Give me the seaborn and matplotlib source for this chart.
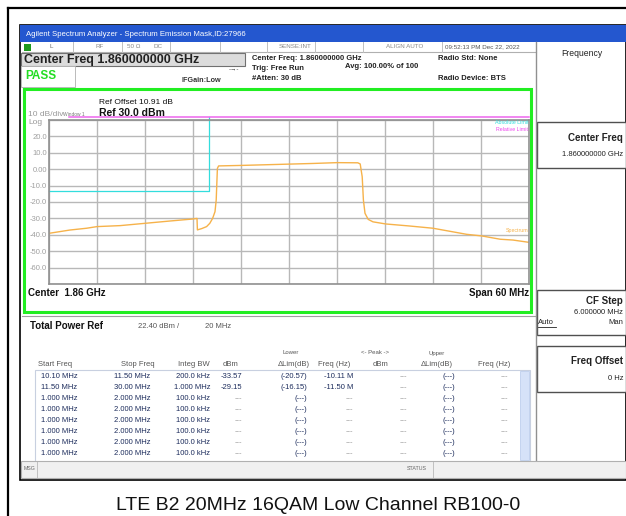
import numpy as np
import pandas as pd
import matplotlib
matplotlib.use("Agg")
import matplotlib.pyplot as plt
from matplotlib.patches import Rectangle
from matplotlib.lines import Line2D
import seaborn as sns

W, H = 626, 516

# trace: offset from 1.86 GHz centre (MHz) and level (dBm)
freq_mhz = [-30, -27.4, -25.3, -24, -21.1, -18, -14.9, -12.1, -11.5, -11.45, -10.9,
            -10.3, -9.9, -9.55, -9.25, -9.1, -8.95, -8.8, -6, -3, 0, 3, 6, 8.6,
            8.9, 9.15, 9.3, 9.5, 9.9, 10.5, 12.1, 15, 18, 19.7, 22.2, 24.1, 26.4,
            28, 30]
level_dbm = [-39.1, -37.1, -36.0, -35.0, -34.4, -33.0, -31.6, -30.4, -30.0, -37.0, -36.2,
             -35.0, -33.0, -30.0, -25.9, -18.8, 0.5, 2.0, 2.3, 2.7, 3.1, 3.5, 4.0, 3.9,
             3.2, -4.6, -18.8, -26.9, -30.6, -32.1, -33.4, -34.6, -36.0, -37.5, -39.7, -40.7, -42.7,
             -43.2, -44.6]

abs_limit_x = [-30, -10, -10]
abs_limit_y = [-13, -13, 32]
rel_limit_x = [-27.5, 30]
rel_limit_y = [31.6, 31.6]

y_ticks = [20, 10, 0, -10, -20, -30, -40, -50, -60]
y_tick_labels = ["20.0", "10.0", "0.00", "-10.0", "-20.0", "-30.0", "-40.0", "-50.0", "-60.0"]

start_freq = ["10.10 MHz", "11.50 MHz"] + ["1.000 MHz"] * 6
stop_freq = ["11.50 MHz", "30.00 MHz"] + ["2.000 MHz"] * 6
integ_bw = ["200.0 kHz", "1.000 MHz"] + ["100.0 kHz"] * 6
lower_dbm = ["-33.57", "-29.15"] + ["---"] * 6
lower_dlim = ["(-20.57)", "(-16.15)"] + ["(---)"] * 6
lower_freq = ["-10.11 M", "-11.50 M"] + ["---"] * 6
upper_dbm = ["---"] * 8
upper_dlim = ["(---)"] * 8
upper_freq = ["---"] * 8

plt.rcParams['font.family'] = ['Liberation Sans', 'DejaVu Sans']

fig = plt.figure(figsize=(W / 100, H / 100), dpi=100)
fig.patch.set_facecolor("white")


def box(x0, y0, x1, y1, fc="white", ec=None, lw=0, z=-5):
    fig.add_artist(Rectangle((x0 / W, 1 - y1 / H), (x1 - x0) / W, (y1 - y0) / H,
                             transform=fig.transFigure, fc=fc, ec=ec if ec else fc,
                             lw=lw, zorder=z))


def line(x0, y0, x1, y1, color="black", lw=1, z=-2):
    fig.add_artist(Line2D([x0 / W, x1 / W], [1 - y0 / H, 1 - y1 / H],
                          transform=fig.transFigure, color=color, lw=lw, zorder=z))


def txt(x, y, s, size=5.5, ha="left", color="black", weight="normal", z=5):
    fig.text(x / W, 1 - y / H, s, ha=ha, va="center", fontsize=size, color=color,
             fontweight=weight, zorder=z)


# outer page frame
line(8, 8, 626, 8, lw=1.6)
line(8, 8, 8, 516, lw=1.6)

# screenshot body
box(20, 25, 626, 480, fc="white", ec="black", lw=1.2, z=-10)
box(20, 25, 626, 42, fc="#2457cf", z=-8)
txt(26, 34, "Agilent Spectrum Analyzer - Spectrum Emission Mask,ID:27966", size=5.6, color="white")

# status strip
line(22, 52, 536, 52, color="#b0b0b0", lw=0.8)
box(24, 44, 31, 51, fc="#1d9a1d", z=-4)
for xs in [73, 122, 170, 220, 267, 315, 363, 442]:
    line(xs, 42, xs, 52, color="#c0c0c0", lw=0.7)
txt(50, 47, "L", size=4.5, color="#666666")
txt(96, 47, "RF", size=4.5, color="#888888")
txt(127, 47, "50 Ω", size=4.5, color="#888888")
txt(153, 47, "DC", size=4.5, color="#888888")
txt(279, 47, "SENSE:INT", size=4.5, color="#888888")
txt(386, 47, "ALIGN AUTO", size=4.5, color="#888888")
txt(445, 47, "09:52:13 PM Dec 22, 2022", size=4.5, color="#555555")

# header
box(21, 53, 245, 66, fc="#dcdcdc", ec="#707070", lw=0.8, z=-4)
txt(24, 60, "Center Freq 1.860000000 GHz", size=9, weight="bold", color="#222222")
box(21, 66, 75, 87, fc="white", ec="#b0b0b0", lw=0.6, z=-4)
txt(25, 76, "PASS", size=8.5, weight="bold", color="#22dd22")
txt(181, 80, "IFGain:Low", size=5.2, weight="bold", color="#333333")
txt(229, 69, "-→-", size=4.5, color="#333333")
txt(252, 58, "Center Freq: 1.860000000 GHz", size=5.5, weight="bold", color="#222222")
txt(252, 68, "Trig: Free Run", size=5.5, weight="bold", color="#222222")
txt(252, 79, "#Atten: 30 dB", size=5.5, weight="bold", color="#222222")
txt(345, 67, "Avg: 100.00% of 100", size=5.5, weight="bold", color="#222222")
txt(438, 58, "Radio Std: None", size=5.5, weight="bold", color="#222222")
txt(438, 79, "Radio Device: BTS", size=5.5, weight="bold", color="#222222")

# right soft-key panel
line(536, 42, 536, 462, color="#909090", lw=1)
txt(582, 54, "Frequency", size=6.2, ha="center", color="#222222")
box(537, 122, 626, 168, fc="white", ec="#505050", lw=1, z=-4)
txt(623, 138, "Center Freq", size=7, ha="right", weight="bold", color="#222222")
txt(623, 154, "1.860000000 GHz", size=5.5, ha="right", color="#222222")
box(537, 290, 626, 335, fc="white", ec="#505050", lw=1, z=-4)
txt(623, 301, "CF Step", size=7, ha="right", weight="bold", color="#222222")
txt(623, 312, "6.000000 MHz", size=5.5, ha="right", color="#222222")
txt(538, 322, "Auto", size=5.5, color="#222222")
line(538, 327, 556, 327, color="#222222", lw=0.6, z=5)
txt(623, 322, "Man", size=5.5, ha="right", color="#222222")
box(537, 346, 626, 392, fc="white", ec="#505050", lw=1, z=-4)
txt(623, 361, "Freq Offset", size=7, ha="right", weight="bold", color="#222222")
txt(623, 378, "0 Hz", size=5.5, ha="right", color="#222222")

# graph window frame
box(24, 89, 531, 312, fc="white", ec="#22ee22", lw=2.2, z=-4)
txt(99, 102, "Ref Offset 10.91 dB", size=6, color="#111111")
txt(99, 113, "Ref 30.0 dBm", size=7.5, weight="bold", color="#111111")
txt(28, 114, "10 dB/div", size=6, color="#999999")
txt(63, 114, "Window 1", size=3.5, color="#777777")
txt(28, 123, "Log", size=6, color="#999999")
txt(28, 293, "Center  1.86 GHz", size=7, weight="bold", color="#111111")
txt(529, 293, "Span 60 MHz", size=7, ha="right", weight="bold", color="#111111")

ax = fig.add_axes([49 / W, 1 - 284 / H, 480 / W, 164 / H])
ax.set_facecolor("white")
df = pd.DataFrame({"freq": freq_mhz, "dbm": level_dbm})
sns.lineplot(data=df, x="freq", y="dbm", ax=ax, color="#f6b24a", lw=1,
             estimator=None, sort=False)
ax.plot(abs_limit_x, abs_limit_y, color="#33dddd", lw=0.9, clip_on=False)
ax.plot(rel_limit_x, rel_limit_y, color="#ee66ee", lw=1.1, clip_on=False)
ax.set_xlim(-30, 30)
ax.set_ylim(-70, 30)
ax.set_xticks(np.linspace(-30, 30, 11))
ax.set_yticks(list(range(-70, 31, 10)))
ax.set_yticklabels([""] + y_tick_labels[::-1] + [""])
ax.set_xticklabels([])
ax.tick_params(length=0, pad=1.5, labelsize=5.5, labelcolor="#a0a0a0")
ax.grid(True, color="#b8b8b8", lw=1)
ax.set_axisbelow(True)
ax.set_xlabel("")
ax.set_ylabel("")
for s in ax.spines.values():
    s.set_color("#909090")
    s.set_linewidth(1.2)
ax.text(29.9, 28.5, "Absolute Limit", fontsize=3.8, color="#33dddd", ha="right", va="center")
ax.text(29.9, 24.3, "Relative Limit", fontsize=3.8, color="#ee44ee", ha="right", va="center")
ax.text(29.9, -37.5, "Spectrum", fontsize=3.8, color="#f6b24a", ha="right", va="center")

# results table
line(22, 316, 535, 316, color="#a0a0a0", lw=0.8)
txt(30, 326, "Total Power Ref", size=7, weight="bold", color="#111111")
txt(138, 326, "22.40 dBm /", size=5.5, color="#555555")
txt(205, 326, "20 MHz", size=5.5, color="#555555")
txt(291, 353, "Lower", size=4.3, ha="center", color="#555555")
txt(375, 353, "<- Peak ->", size=4.3, ha="center", color="#555555")
txt(437, 353, "Upper", size=4.3, ha="center", color="#555555")
hdr_y = 364
txt(38, hdr_y, "Start Freq", size=5.5, color="#555555")
txt(155, hdr_y, "Stop Freq", size=5.5, ha="right", color="#555555")
txt(210, hdr_y, "Integ BW", size=5.5, ha="right", color="#555555")
txt(238, hdr_y, "dBm", size=5.5, ha="right", color="#555555")
txt(310, hdr_y, "ΔLim(dB)", size=5.5, ha="right", color="#555555")
txt(350, hdr_y, "Freq (Hz)", size=5.5, ha="right", color="#555555")
txt(388, hdr_y, "dBm", size=5.5, ha="right", color="#555555")
txt(453, hdr_y, "ΔLim(dB)", size=5.5, ha="right", color="#555555")
txt(510, hdr_y, "Freq (Hz)", size=5.5, ha="right", color="#555555")
box(35, 370, 530, 462, fc="white", ec="#c8d0e0", lw=0.8, z=-4)
box(520, 371, 529, 460, fc="#d6e2f8", ec="#b5c8ea", lw=0.5, z=-3)
val = "#1c2c5c"
for i in range(8):
    y = 377 + i * 10.9
    txt(41, y, start_freq[i], size=5.5, color=val)
    txt(150, y, stop_freq[i], size=5.5, ha="right", color=val)
    txt(210, y, integ_bw[i], size=5.5, ha="right", color=val)
    txt(242, y, lower_dbm[i], size=5.5, ha="right", color=val if i < 2 else "#999999")
    txt(307, y, lower_dlim[i], size=5.5, ha="right", color=val)
    txt(353, y, lower_freq[i], size=5.5, ha="right", color=val if i < 2 else "#999999")
    txt(407, y, upper_dbm[i], size=5.5, ha="right", color="#999999")
    txt(455, y, upper_dlim[i], size=5.5, ha="right", color=val)
    txt(508, y, upper_freq[i], size=5.5, ha="right", color="#999999")

# message bar
box(21, 461, 626, 478, fc="#f0f0f0", ec="#b0b0b0", lw=0.8, z=1)
line(37, 462, 37, 477, color="#c0c0c0", lw=0.7, z=2)
line(433, 462, 433, 477, color="#c0c0c0", lw=0.7, z=2)
txt(24, 469, "MSG", size=3.8, color="#666666")
txt(407, 469, "STATUS", size=3.8, color="#666666")

# caption
txt(318, 506, "LTE B2 20MHz 16QAM Low Channel RB100-0", size=14, ha="center", color="#111111")

fig.savefig("out.png", dpi=100)
